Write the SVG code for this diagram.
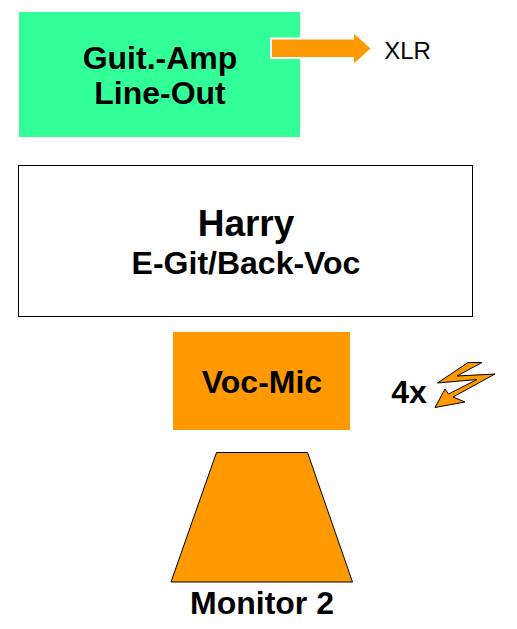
<svg xmlns="http://www.w3.org/2000/svg" width="517" height="629" viewBox="0 0 517 629">
<style>
text{font-family:"Liberation Sans",Arial,sans-serif;font-weight:bold;fill:#000;text-anchor:middle}
.o{fill:#ff9900}
.k{stroke:#000;stroke-width:1}
</style>
<rect width="517" height="629" fill="#fff"/>
<g id="guit-amp">
<rect x="19" y="12" width="281" height="125" fill="#33ff99"/>
<text x="160" y="69" font-size="32">Guit.-Amp</text>
<text x="160" y="104" font-size="32">Line-Out</text>
</g>
<g id="connectors">
<path class="o" d="M271 38.500H353V31.500L372 48.500L353 65.500V58H271Z" stroke="#fff" stroke-width="2"/>
</g>
<g id="xlr"><text x="407.500" y="59" font-size="24" style="font-weight:normal">XLR</text></g>
<g id="harry">
<rect x="18.500" y="165.500" width="454" height="151" fill="#fff" stroke="#000"/>
<text x="246" y="236" font-size="37">Harry</text>
<text x="246" y="274" font-size="32">E-Git/Back-Voc</text>
</g>
<g id="voc-mic">
<rect x="173" y="332" width="177" height="98" class="o"/>
<text x="262" y="393" font-size="32">Voc-Mic</text>
</g>
<g id="wireless">
<text x="409" y="403" font-size="32">4x</text>
<path class="o k" d="M437.500 383L468 362.500L482 362.500L457 376L495 374L453 397L465 402L435 407.500L445 389L448.500 394L477 379.500Z"/>
</g>
<g id="monitor">
<path class="o k" d="M216.500 452.500H307.500L352.500 582H171Z"/>
<text x="262" y="614" font-size="32">Monitor 2</text>
</g>
</svg>
